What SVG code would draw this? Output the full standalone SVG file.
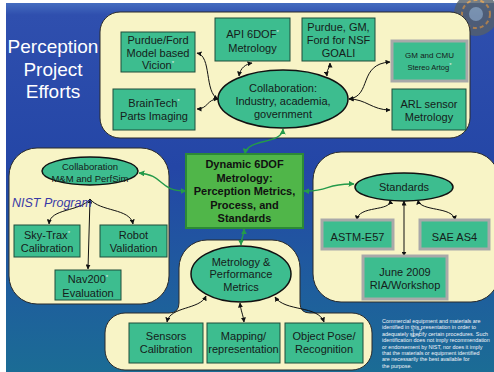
<svg xmlns="http://www.w3.org/2000/svg" width="494" height="372" viewBox="0 0 494 372">
  <defs>
    <linearGradient id="bg" x1="0" y1="0" x2="0" y2="1">
      <stop offset="0" stop-color="#4a74c4"/>
      <stop offset="0.04" stop-color="#2f4fae"/>
      <stop offset="0.45" stop-color="#2446a6"/>
      <stop offset="0.75" stop-color="#1f5c9e"/>
      <stop offset="1" stop-color="#1b6c95"/>
    </linearGradient>
    <marker id="ah" viewBox="0 0 10 10" refX="9" refY="5" markerWidth="5" markerHeight="5" orient="auto-start-reverse" markerUnits="userSpaceOnUse">
      <path d="M0,0 L10,5 L0,10 Z" fill="#111"/>
    </marker>
    <marker id="ahg" viewBox="0 0 10 10" refX="9" refY="5" markerWidth="6" markerHeight="6" orient="auto-start-reverse" markerUnits="userSpaceOnUse">
      <path d="M0,0 L10,5 L0,10 Z" fill="#249a4a"/>
    </marker>
  </defs>
  <style>
    text { font-family: "Liberation Sans", Arial, sans-serif; }
    .panel { fill: #f8f4c6; stroke: #2b2b2b; stroke-width: 1; }
    .box { fill: #3dbd8f; stroke: #1f4d3a; stroke-width: 1; }
    .gbox { fill: #3dbd8f; stroke: #a9a9a9; stroke-width: 3; }
    .oval { fill: #3dbd8f; stroke: #111; stroke-width: 1.5; }
    .lbl { font-size: 11px; fill: #15201a; text-anchor: middle; }
    .sm { font-size: 9.5px; }
    .star { font-size: 6px; fill: #e8f0e8; }
    .title { font-size: 19px; fill: #ffffff; text-anchor: middle; }
    .center { fill: #50b649; stroke: #2c8a36; stroke-width: 2; }
    .ctext { font-size: 11px; font-weight: bold; fill: #111; text-anchor: middle; }
    .note { font-size: 5.4px; fill: #f2f4f8; }
    .blk { fill: none; stroke: #111; stroke-width: 1; marker-end: url(#ah); marker-start: url(#ah); }
    .grn { fill: none; stroke: #249a4a; stroke-width: 1.4; marker-end: url(#ahg); marker-start: url(#ahg); }
  </style>

  <!-- slide background -->
  <rect x="0" y="0" width="494" height="372" fill="url(#bg)"/>
  <rect x="0" y="0" width="494" height="3" fill="#ffffff"/>
  <rect x="0" y="0" width="6" height="372" fill="#ffffff"/>
  <!-- globe ornament, top right -->
  <g opacity="0.8">
    <circle cx="476" cy="14" r="22" fill="#55606a"/>
    <circle cx="476" cy="14" r="14" fill="none" stroke="#c98a3a" stroke-width="2" stroke-dasharray="4 3"/>
    <circle cx="476" cy="14" r="7" fill="#8aa0b0"/>
  </g>

  <!-- title -->
  <text class="title" x="53" y="53">Perception</text>
  <text class="title" x="53" y="76">Project</text>
  <text class="title" x="53" y="98">Efforts</text>

  <!-- panels -->
  <rect class="panel" x="100" y="12" width="370" height="126" rx="20"/>
  <rect class="panel" x="9" y="148" width="160" height="156" rx="28"/>
  <rect class="panel" x="313" y="152" width="186" height="150" rx="28"/>
  <path class="panel" d="M125,313 H169 Q179,313 179,303 V268 A28,28 0 0 1 207,240 H272 A28,28 0 0 1 300,268 V303 Q300,313 310,313 H352 A20,20 0 0 1 372,333 V350 A20,20 0 0 1 352,370 H125 A20,20 0 0 1 105,350 V333 A20,20 0 0 1 125,313 Z"/>

  <!-- connectors -->
  <g id="connectors">
    <path class="blk" d="M197,53 C212,56 204,92 218,99"/>
    <path class="blk" d="M197,109 C208,109 207,99 218,99"/>
    <path class="blk" d="M252,63 C246,64 240,68 239,76"/>
    <path class="blk" d="M330,63 C330,68 326,70 327,76"/>
    <path class="blk" d="M349,99 C372,96 358,64 390,62"/>
    <path class="blk" d="M349,99 C366,99 372,110 390,110"/>

    <path class="grn" d="M283,129 C282,145 247,138 245,154"/>
    <path class="grn" d="M139,173 C165,175 158,191 186,191"/>
    <path class="grn" d="M304,191 C330,192 325,183 354,184"/>
    <path class="grn" d="M244,229 C244,236 241,238 241,245"/>

    <path class="blk" d="M90,199 L88,269"/>
    <path class="blk" style="marker-start:none" d="M90,199 C80,212 50,208 49,224"/>
    <path class="blk" style="marker-start:none" d="M90,199 C100,212 130,208 133,224"/>

    <path class="blk" d="M390,200 C392,212 358,205 357,220"/>
    <path class="blk" d="M404,201 L404,256"/>
    <path class="blk" d="M418,200 C420,212 453,206 455,220"/>

    <path class="blk" d="M206,296 C200,310 170,306 167,322"/>
    <path class="blk" d="M240,303 C241,312 243,314 244,322"/>
    <path class="blk" d="M275,297 C285,312 318,305 324,322"/>
  </g>

  <!-- top panel nodes -->
  <g id="purdue-ford">
    <rect class="box" x="121" y="32" width="74" height="40"/>
    <text class="lbl" x="158" y="44">Purdue/Ford</text>
    <text class="lbl" x="158" y="57">Model based</text>
    <text class="lbl" x="158" y="69">Vicion<tspan class="star" dy="-4">*</tspan></text>
  </g>
  <g id="braintech">
    <rect class="box" x="113" y="89" width="82" height="41"/>
    <text class="lbl" x="154" y="107">BrainTech<tspan class="star" dy="-4">*</tspan></text>
    <text class="lbl" x="154" y="120">Parts Imaging</text>
  </g>
  <g id="api-6dof">
    <rect class="box" x="215" y="18" width="75" height="43"/>
    <text class="lbl" x="252.5" y="38">API 6DOF<tspan class="star" dy="-4">*</tspan></text>
    <text class="lbl" x="252.5" y="52">Metrology</text>
  </g>
  <g id="purdue-gm-ford">
    <rect class="box" x="302" y="18" width="73" height="43"/>
    <text class="lbl" x="338.5" y="31">Purdue, GM,</text>
    <text class="lbl" x="338.5" y="44">Ford  for NSF</text>
    <text class="lbl" x="338.5" y="57">GOALI</text>
  </g>
  <g id="gm-cmu">
    <rect class="gbox" x="392" y="41" width="75" height="40"/>
    <text class="lbl" style="font-size:8px" x="429.5" y="58">GM and CMU</text>
    <text class="lbl" style="font-size:7.5px" x="429.5" y="70">Stereo Artog<tspan class="star" dy="-3">*</tspan></text>
  </g>
  <g id="arl">
    <rect class="box" x="392" y="89" width="74" height="41"/>
    <text class="lbl" x="429" y="108">ARL sensor</text>
    <text class="lbl" x="429" y="121">Metrology</text>
  </g>
  <g id="collab-industry">
    <ellipse class="oval" cx="283" cy="99" rx="65" ry="29"/>
    <text class="lbl" x="283" y="92">Collaboration:</text>
    <text class="lbl" x="283" y="105">Industry, academia,</text>
    <text class="lbl" x="283" y="118">government</text>
  </g>

  <!-- central node -->
  <g id="dynamic-6dof">
    <rect class="center" x="186" y="154" width="117" height="74"/>
    <text class="ctext" x="244.5" y="168">Dynamic 6DOF</text>
    <text class="ctext" x="244.5" y="181.5">Metrology:</text>
    <text class="ctext" x="244.5" y="195">Perception Metrics,</text>
    <text class="ctext" x="244.5" y="208.5">Process, and</text>
    <text class="ctext" x="244.5" y="222">Standards</text>
  </g>

  <!-- NIST program panel -->
  <g id="collab-mm">
    <ellipse class="oval" cx="90" cy="171" rx="48" ry="14"/>
    <text class="lbl sm" x="90" y="170">Collaboration</text>
    <text class="lbl sm" x="90" y="182">M&amp;M and PerfSim</text>
  </g>
  <text x="12" y="207" style="font-size:12.5px;font-style:italic;fill:#3a3aa6">NIST Program</text>
  <g id="sky-trax">
    <rect class="box" x="14" y="225" width="66" height="32"/>
    <text class="lbl" x="47" y="239">Sky-Trax<tspan class="star" dy="-4">*</tspan></text>
    <text class="lbl" x="47" y="252">Calibration</text>
  </g>
  <g id="robot">
    <rect class="box" x="100" y="225" width="67" height="32"/>
    <text class="lbl" x="133.5" y="239">Robot</text>
    <text class="lbl" x="133.5" y="252">Validation</text>
  </g>
  <g id="nav200">
    <rect class="box" x="55" y="270" width="66" height="30"/>
    <text class="lbl" x="88" y="283">Nav200<tspan class="star" dy="-4">*</tspan></text>
    <text class="lbl" x="88" y="297">Evaluation</text>
  </g>

  <!-- standards panel -->
  <g id="standards">
    <ellipse class="oval" cx="404" cy="187" rx="49" ry="14"/>
    <text class="lbl" x="404" y="191">Standards</text>
  </g>
  <g id="astm">
    <rect class="gbox" x="322" y="220" width="71" height="29"/>
    <text class="lbl" x="357.5" y="241">ASTM-E57</text>
  </g>
  <g id="sae">
    <rect class="gbox" x="420" y="220" width="69" height="29"/>
    <text class="lbl" x="454.5" y="241">SAE AS4</text>
  </g>
  <g id="june-2009">
    <rect class="gbox" x="363" y="256" width="84" height="43"/>
    <text class="lbl" x="405" y="276">June 2009</text>
    <text class="lbl" x="405" y="289">RIA/Workshop</text>
  </g>

  <!-- metrology panel -->
  <g id="metrology-perf">
    <ellipse class="oval" cx="241" cy="274" rx="50" ry="28"/>
    <text class="lbl" x="241" y="266">Metrology &amp;</text>
    <text class="lbl" x="241" y="278">Performance</text>
    <text class="lbl" x="241" y="291">Metrics</text>
  </g>
  <g id="sensors">
    <rect class="box" x="129" y="323" width="74" height="40"/>
    <text class="lbl" x="166" y="340">Sensors</text>
    <text class="lbl" x="166" y="353">Calibration</text>
  </g>
  <g id="mapping">
    <rect class="box" x="207" y="323" width="73" height="40"/>
    <text class="lbl" x="243.5" y="340">Mapping/</text>
    <text class="lbl" x="243.5" y="353">representation</text>
  </g>
  <g id="object-pose">
    <rect class="box" x="285" y="323" width="78" height="40"/>
    <text class="lbl" x="324" y="340">Object Pose/</text>
    <text class="lbl" x="324" y="353">Recognition</text>
  </g>

  <!-- disclaimer and slide number -->
  <text x="410" y="337" style="font-size:11px;fill:#ffffff;opacity:0.5">17</text>
  <g>
    <text class="note" x="382" y="323">Commercial equipment and materials are</text>
    <text class="note" x="382" y="329.4">identified  in this presentation  in order to</text>
    <text class="note" x="382" y="335.8">adequately specify certain procedures. Such</text>
    <text class="note" x="382" y="342.2">identification does not imply recommendation</text>
    <text class="note" x="382" y="348.6">or endorsement by NIST, nor does it  imply</text>
    <text class="note" x="382" y="355">that the materials or equipment identified</text>
    <text class="note" x="382" y="361.4">are  necessarily the best available for</text>
    <text class="note" x="382" y="367.8">the purpose.</text>
  </g>
</svg>
